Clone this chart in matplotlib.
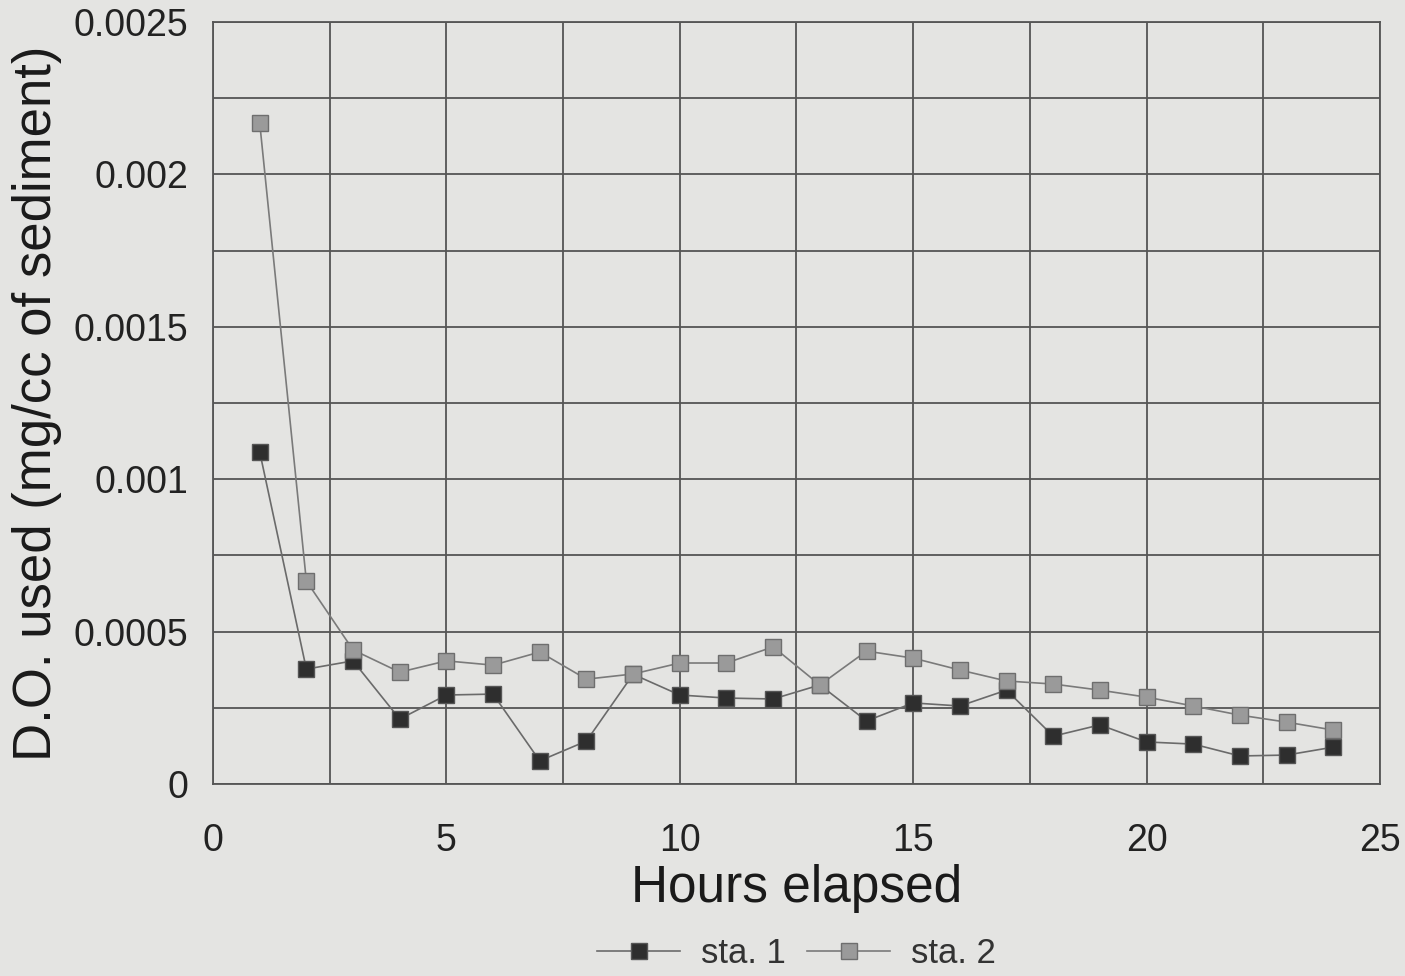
import numpy as np
import matplotlib
matplotlib.use('Agg')
import matplotlib.pyplot as plt

# Données
heures = [1, 2, 3, 4, 5, 6, 7, 8, 9, 10, 11, 12,
          13, 14, 15, 16, 17, 18, 19, 20, 21, 22, 23, 24]
sta1 = [0.00109, 0.000377, 0.000404, 0.000213, 0.000292, 0.000295,
        0.000076, 0.000141, 0.000360, 0.000292, 0.000282, 0.000279,
        0.000325, 0.000207, 0.000266, 0.000256, 0.000308, 0.000157,
        0.000194, 0.000138, 0.000131, 0.000092, 0.000095, 0.000121]
sta2 = [0.00217, 0.000666, 0.000440, 0.000367, 0.000404, 0.000390,
        0.000433, 0.000344, 0.000361, 0.000397, 0.000397, 0.000450,
        0.000325, 0.000436, 0.000413, 0.000374, 0.000338, 0.000328,
        0.000308, 0.000285, 0.000256, 0.000226, 0.000203, 0.000177]

yticks = [0, 0.0005, 0.001, 0.0015, 0.002, 0.0025]
ylabels = ['0', '0.0005', '0.001', '0.0015', '0.002', '0.0025']
xticks = [0, 5, 10, 15, 20, 25]

plt.rcParams['font.family'] = ['Liberation Sans', 'DejaVu Sans']

fond = '#e4e4e2'
fig = plt.figure(figsize=(14.05, 9.76), dpi=100, facecolor=fond)
ax = fig.add_axes([0.1516, 0.1967, 0.8306, 0.7808], facecolor=fond)

ax.plot(heures, sta1, color='#6a6a6a', linewidth=1.2, marker='s',
        markersize=12, markerfacecolor='#2e2e2e', markeredgecolor='#555555',
        label='sta. 1')
ax.plot(heures, sta2, color='#7a7a7a', linewidth=1.2, marker='s',
        markersize=12, markerfacecolor='#9a9a9a', markeredgecolor='#6e6e6e',
        label='sta. 2')

ax.set_xlim(0, 25)
ax.set_ylim(0, 0.0025)
ax.set_xticks(xticks)
ax.set_yticks(yticks)
ax.set_yticklabels(ylabels)
ax.set_xticks(np.arange(0, 25.1, 2.5), minor=True)
ax.set_yticks(np.arange(0, 0.00251, 0.00025), minor=True)
ax.grid(which='both', color='#555555', linewidth=1.3)
ax.set_axisbelow(True)
ax.tick_params(which='both', length=0)
ax.tick_params(axis='x', labelsize=27, pad=28, colors='#222222')
ax.tick_params(axis='y', labelsize=27, pad=18, colors='#222222')
for s in ax.spines.values():
    s.set_color('#555555')
    s.set_linewidth(1.3)

ax.set_xlabel('Hours elapsed', fontsize=37, color='#1a1a1a', labelpad=4)
ax.set_ylabel('D.O. used (mg/cc of sediment)', fontsize=38, color='#1a1a1a', labelpad=8)

ax.legend(loc='upper center', bbox_to_anchor=(0.5, -0.174), ncol=2, frameon=False,
          fontsize=25, handlelength=2.4, columnspacing=0.6, handletextpad=0.6,
          borderpad=0.1, labelcolor='#333333')

fig.savefig('out.png', dpi=100, facecolor=fond)
